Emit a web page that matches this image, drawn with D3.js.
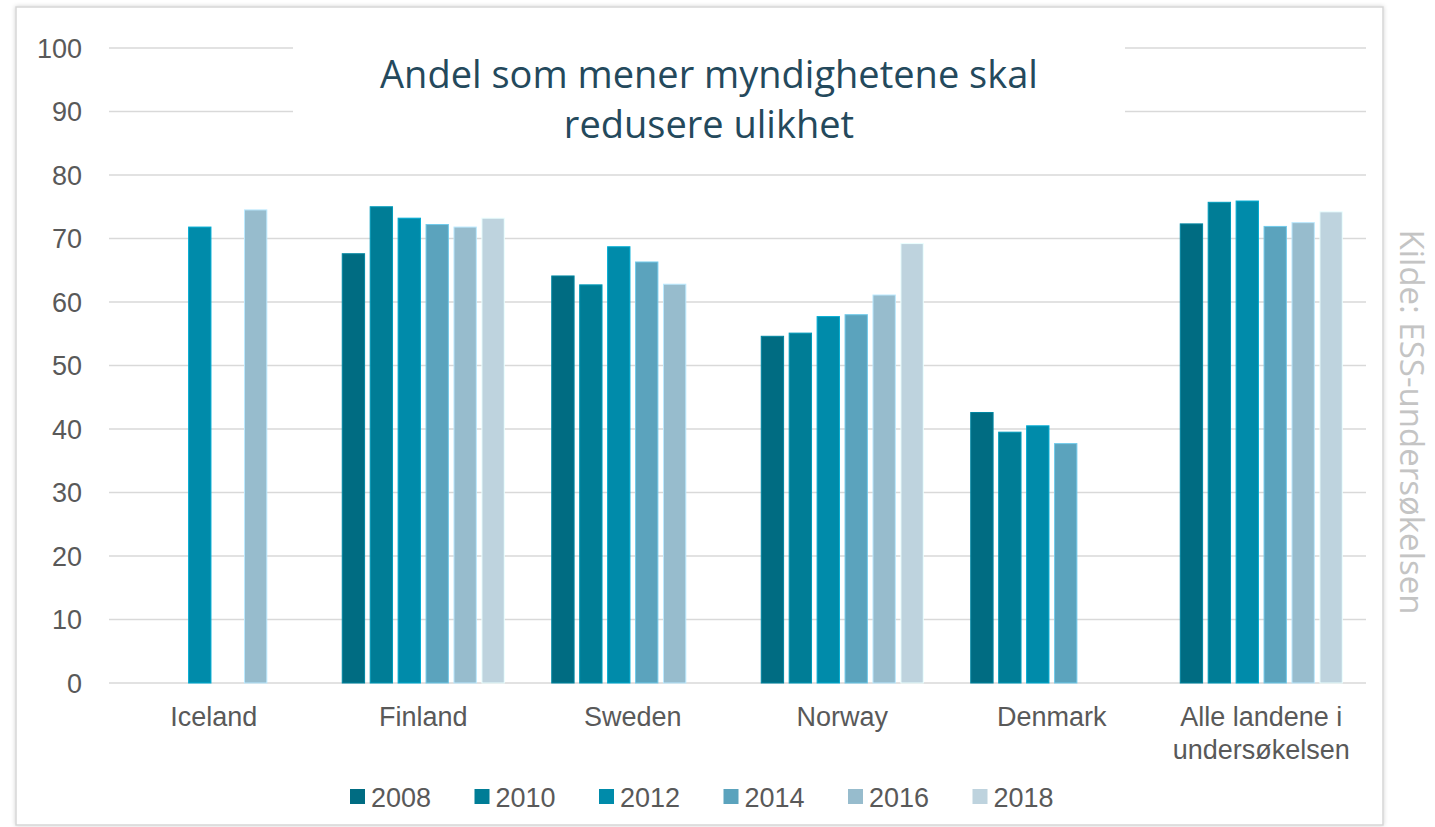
<!DOCTYPE html>
<html>
<head>
<meta charset="utf-8">
<script src="https://cdn.jsdelivr.net/npm/d3@7"></script>
<style>
  html, body { margin: 0; padding: 0; background: #fff; }
  svg { display: block; }
</style>
</head>
<body>
<svg id="chart"></svg>
<script>
  const categories = ["Iceland", "Finland", "Sweden", "Norway", "Denmark", "Alle landene i\nundersøkelsen"];
  const years = ["2008", "2010", "2012", "2014", "2016", "2018"];
  const colors = ["#006c82", "#007d96", "#008baa", "#5ba3bd", "#97bccd", "#bed3de"];
  // one array per year, one value per country (null = no data)
  const v2008 = [null, 67.6, 64.1, 54.6, 42.6, 72.3];
  const v2010 = [null, 75.0, 62.7, 55.1, 39.5, 75.7];
  const v2012 = [71.8, 73.2, 68.7, 57.7, 40.5, 75.9];
  const v2014 = [null, 72.2, 66.3, 58.0, 37.7, 71.9];
  const v2016 = [74.5, 71.8, 62.8, 61.1, null, 72.5];
  const v2018 = [null, 73.2, null, 69.2, null, 74.2];
  const yTicks = [0, 10, 20, 30, 40, 50, 60, 70, 80, 90, 100];
  const titleLines = ["Andel som mener myndighetene skal", "redusere ulikhet"];
  const sourceText = "Kilde: ESS-undersøkelsen";

  const series = [v2008, v2010, v2012, v2014, v2016, v2018];

  const W = 1435, H = 827;
  const plot = { left: 109, right: 1366, top: 48, bottom: 683 };

  const svg = d3.select('#chart').attr('width', W).attr('height', H);

  const defs = svg.append('defs');
  const f = defs.append('filter').attr('id', 'shadow')
    .attr('x', '-5%').attr('y', '-5%').attr('width', '110%').attr('height', '110%');
  f.append('feDropShadow').attr('dx', 0).attr('dy', 0).attr('stdDeviation', 2)
    .attr('flood-color', '#000').attr('flood-opacity', 0.18);

  // frame
  svg.append('rect')
    .attr('x', 16).attr('y', 7).attr('width', 1367).attr('height', 818)
    .attr('fill', '#fff').attr('stroke', '#d6d6d6').attr('stroke-width', 1.5)
    .attr('filter', 'url(#shadow)');

  const x0 = d3.scaleBand().domain(categories).range([plot.left, plot.right])
    .paddingInner(0.2).paddingOuter(0.1);
  const x1 = d3.scaleBand().domain(years).range([0, x0.bandwidth()])
    .paddingInner(0.2).paddingOuter(0.1);
  const y = d3.scaleLinear().domain([0, 100]).range([plot.bottom, plot.top]);

  // gridlines
  svg.append('g')
    .selectAll('line')
    .data(yTicks)
    .enter()
    .append('line')
    .attr('x1', plot.left).attr('x2', plot.right)
    .attr('y1', d => y(d)).attr('y2', d => y(d))
    .attr('stroke', '#d9d9d9').attr('stroke-width', 1.5);

  // y axis labels
  const yAxis = svg.append('g')
    .attr('transform', `translate(${plot.left - 27},0)`)
    .call(d3.axisLeft(y).tickValues(yTicks).tickSize(0).tickPadding(0));
  yAxis.select('.domain').remove();
  yAxis.selectAll('text')
    .attr('font-family', 'Liberation Sans, Arial, sans-serif')
    .attr('font-size', 27).attr('fill', '#595959').attr('dy', '0.35em');

  // bars
  const flat = [];
  categories.forEach((c, ci) => {
    years.forEach((yr, yi) => {
      const v = series[yi][ci];
      if (v != null) flat.push({ cat: c, year: yr, value: v, color: colors[yi] });
    });
  });

  svg.append('g')
    .selectAll('rect')
    .data(flat)
    .enter()
    .append('rect')
    .attr('x', d => x0(d.cat) + x1(d.year))
    .attr('y', d => y(d.value))
    .attr('width', x1.bandwidth())
    .attr('height', d => y(0) - y(d.value))
    .attr('fill', d => d.color)
    .attr('stroke', d => d3.color(d.color).brighter(0.6))
    .attr('stroke-width', 1);

  // x labels
  const xl = svg.append('g');
  categories.forEach(c => {
    const lines = c.split('\n');
    const t = xl.append('text')
      .attr('x', x0(c) + x0.bandwidth() / 2)
      .attr('y', 726)
      .attr('text-anchor', 'middle')
      .attr('font-family', 'Liberation Sans, Arial, sans-serif')
      .attr('font-size', 27).attr('fill', '#595959');
    lines.forEach((l, i) => {
      t.append('tspan').attr('x', x0(c) + x0.bandwidth() / 2)
        .attr('dy', i === 0 ? 0 : 33).text(l);
    });
  });

  // title with white box over gridlines
  svg.append('rect')
    .attr('x', 293).attr('y', 36).attr('width', 832).attr('height', 118)
    .attr('fill', '#fff');
  const title = svg.append('text')
    .attr('text-anchor', 'middle')
    .attr('font-family', 'Open Sans, sans-serif')
    .attr('font-size', 38).attr('fill', '#24495c');
  titleLines.forEach((l, i) => {
    title.append('tspan').attr('x', 709).attr('y', 88 + i * 50).text(l);
  });

  // legend
  const legend = svg.append('g')
    .selectAll('g')
    .data(years)
    .enter()
    .append('g')
    .attr('transform', (d, i) => `translate(${350 + i * 124.5},797)`);
  legend.append('rect')
    .attr('x', 0).attr('y', -8).attr('width', 15).attr('height', 15)
    .attr('fill', (d, i) => colors[i]);
  legend.append('text')
    .attr('x', 21).attr('y', 0).attr('dy', '0.36em')
    .attr('font-family', 'Liberation Sans, Arial, sans-serif')
    .attr('font-size', 27).attr('fill', '#595959')
    .text(d => d);

  // source
  svg.append('text')
    .attr('transform', 'translate(1400,422) rotate(90)')
    .attr('text-anchor', 'middle')
    .attr('font-family', 'Open Sans, sans-serif')
    .attr('font-size', 33).attr('fill', '#c4c4c4')
    .text(sourceText);
</script>
</body>
</html>
